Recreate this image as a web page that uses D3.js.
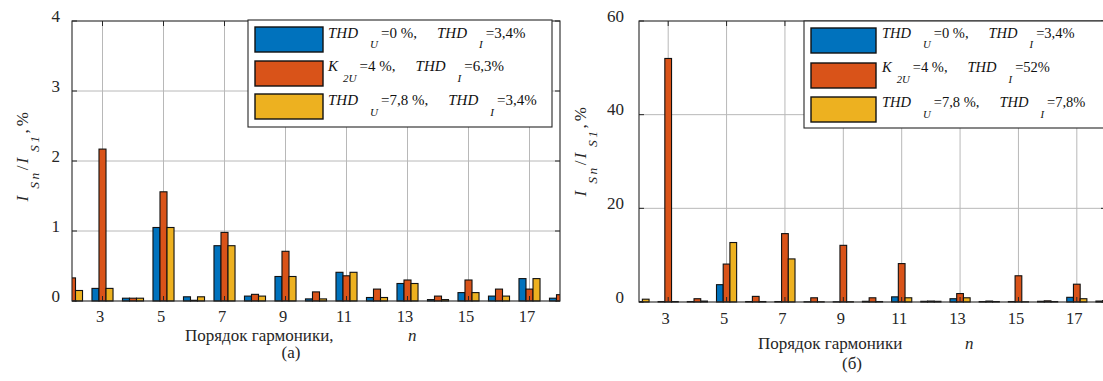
<!DOCTYPE html>
<html><head><meta charset="utf-8">
<script src="https://cdn.jsdelivr.net/npm/d3@7"></script>
<style>body{margin:0;background:#fff}svg{display:block}</style>
</head><body><svg id="c" width="1103" height="381"></svg>
<script>
// ---------- data ----------
const harmonics = [2,3,4,5,6,7,8,9,10,11,12,13,14,15,16,17,18];
const xTickLabels = [3,5,7,9,11,13,15,17];
const yTicksA = [0,1,2,3,4];
const yTicksB = [0,20,40,60];
const seriesColors = ["#0072BD","#D95319","#EDB120"];

// panel (a)
const blueA   = [0.15,0.18,0.04,1.05,0.06,0.79,0.07,0.35,0.03,0.41,0.05,0.25,0.02,0.12,0.07,0.32,0.04];
const orangeA = [0.33,2.17,0.04,1.56,0.01,0.98,0.095,0.71,0.13,0.36,0.17,0.30,0.07,0.30,0.17,0.17,0.09];
const yellowA = [0.15,0.18,0.04,1.05,0.06,0.79,0.07,0.35,0.03,0.41,0.05,0.25,0.02,0.12,0.07,0.32,0.04];

// panel (б)
const blueB   = [0.1,0.1,0.1,3.7,0.1,0.1,0.05,0.05,0.15,1.1,0.15,0.7,0.1,0.1,0.15,1.0,0.2];
const orangeB = [0.1,52.0,0.7,8.1,1.2,14.6,0.9,12.1,0.9,8.2,0.2,1.8,0.2,5.6,0.25,3.8,0.3];
const yellowB = [0.6,0.1,0.2,12.7,0.1,9.2,0.05,0.05,0.1,0.9,0.15,0.9,0.1,0.05,0.1,0.7,0.1];

// legend labels: [text, role]  b = italic base, s = italic subscript, p = plain
const legendA = [
  [["THD","b"],["U","s"],["=0 %,","p"],["THD","b"],["I","s"],["=3,4%","p"]],
  [["K","b"],["2U","s"],["=4 %,","p"],["THD","b"],["I","s"],["=6,3%","p"]],
  [["THD","b"],["U","s"],["=7,8 %,","p"],["THD","b"],["I","s"],["=3,4%","p"]]
];
const legendB = [
  [["THD","b"],["U","s"],["=0 %,","p"],["THD","b"],["I","s"],["=3,4%","p"]],
  [["K","b"],["2U","s"],["=4 %,","p"],["THD","b"],["I","s"],["=52%","p"]],
  [["THD","b"],["U","s"],["=7,8 %,","p"],["THD","b"],["I","s"],["=7,8%","p"]]
];
const xTitleA = "Порядок гармоники,";
const xTitleB = "Порядок гармоники";
const captionA = "(а)";
const captionB = "(б)";

// ---------- font detection (pick an installed serif face) ----------
function pickSerif() {
  const cands = ["Liberation Serif","Times New Roman","Tinos","DejaVu Serif","Noto Serif","FreeSerif","Nimbus Roman","Nimbus Roman No9 L","Times","Georgia","STIX Two Text"];
  const ctx = document.createElement("canvas").getContext("2d");
  const s = "mmmmmmmmmmlliWWgq Порядок 0123";
  const bases = ["monospace","sans-serif"];
  const bw = bases.map(b => { ctx.font = `40px ${b}`; return ctx.measureText(s).width; });
  for (const c of cands) {
    let found = false;
    bases.forEach((b, i) => { ctx.font = `40px "${c}", ${b}`; if (Math.abs(ctx.measureText(s).width - bw[i]) > 0.5) found = true; });
    if (found) return `"${c}", serif`;
  }
  return "serif";
}
const FONT = pickSerif();

// ---------- drawing ----------
const svg = d3.select("#c").attr("font-family", FONT);
const INK = "#262626";

function panel(p) {
  const g = svg.append("g");
  const x = d3.scaleLinear().domain([2,18]).range([p.left,p.right]);
  const y = d3.scaleLinear().domain(p.ydom).range([p.bottom,p.top]);
  const step = x(3) - x(2);
  const band = d3.scaleBand().domain([0,1,2]).range([-step*0.345, step*0.345]).padding(0);

  const clipId = "clip" + p.id;
  svg.append("clipPath").attr("id", clipId).append("rect")
    .attr("x", p.left).attr("y", p.top - 2).attr("width", p.right - p.left).attr("height", p.bottom - p.top + 4);

  // grid
  g.append("g").selectAll("line").data(xTickLabels).join("line")
    .attr("x1", d => x(d)).attr("x2", d => x(d)).attr("y1", p.top).attr("y2", p.bottom)
    .attr("stroke", "#b8b8b8").attr("stroke-width", 1);
  g.append("g").selectAll("line").data(p.yticks.slice(1, -1)).join("line")
    .attr("x1", p.left).attr("x2", p.right).attr("y1", d => y(d)).attr("y2", d => y(d))
    .attr("stroke", "#b8b8b8").attr("stroke-width", 1);

  // bars
  const bars = g.append("g").attr("clip-path", `url(#${clipId})`);
  p.series.forEach((vals, i) => {
    bars.append("g").selectAll("rect")
      .data(harmonics.map((h, j) => ({h, v: vals[j]})))
      .join("rect")
      .attr("x", d => x(d.h) + band(i))
      .attr("width", band.bandwidth())
      .attr("y", d => y(d.v))
      .attr("height", d => y(0) - y(d.v))
      .attr("fill", seriesColors[i])
      .attr("stroke", "#111").attr("stroke-width", 1.1);
  });

  // frame
  g.append("rect").attr("x", p.left).attr("y", p.top)
    .attr("width", p.right - p.left).attr("height", p.bottom - p.top)
    .attr("fill", "none").attr("stroke", INK).attr("stroke-width", 1.1);

  // inward ticks
  const tk = 5;
  g.append("g").selectAll("line").data(xTickLabels).join("line")
    .attr("x1", d => x(d)).attr("x2", d => x(d)).attr("y1", p.bottom).attr("y2", p.bottom - tk)
    .attr("stroke", INK);
  g.append("g").selectAll("line").data(xTickLabels).join("line")
    .attr("x1", d => x(d)).attr("x2", d => x(d)).attr("y1", p.top).attr("y2", p.top + tk)
    .attr("stroke", INK);
  g.append("g").selectAll("line").data(p.yticks).join("line")
    .attr("x1", p.left).attr("x2", p.left + tk).attr("y1", d => y(d)).attr("y2", d => y(d))
    .attr("stroke", INK);
  g.append("g").selectAll("line").data(p.yticks).join("line")
    .attr("x1", p.right).attr("x2", p.right - tk).attr("y1", d => y(d)).attr("y2", d => y(d))
    .attr("stroke", INK);

  // tick labels via axes
  const xa = g.append("g").attr("transform", `translate(0,${p.xLabBase})`)
    .call(d3.axisBottom(x).tickValues(xTickLabels).tickSize(0).tickPadding(0).tickFormat(d3.format("d")));
  xa.attr("font-family", FONT).attr("font-size", 16.5);
  xa.select(".domain").remove();
  xa.selectAll("text").attr("y", 0).attr("dy", 0).attr("dx", -3).attr("fill", INK);

  const ya = g.append("g").attr("transform", `translate(${p.left - p.yLabGap},0)`)
    .call(d3.axisLeft(y).tickValues(p.yticks).tickSize(0).tickPadding(0).tickFormat(d3.format("d")));
  ya.attr("font-family", FONT).attr("font-size", 17);
  ya.select(".domain").remove();
  ya.selectAll("text").attr("x", 0).attr("dy", 0).attr("fill", INK);

  // x title
  g.append("text").attr("x", p.xTitleX).attr("y", p.xTitleY).attr("fill", INK)
    .attr("font-size", 17).text(p.xTitle);
  g.append("text").attr("x", p.nX).attr("y", p.xTitleY).attr("fill", INK)
    .attr("font-size", 17).attr("font-style", "italic").text("n");
  g.append("text").attr("x", p.capX).attr("y", p.capY).attr("text-anchor", "middle").attr("fill", INK)
    .attr("font-size", 17).text(p.caption);

  // y label (rotated)
  const yl = g.append("text").attr("transform", `translate(${p.ylX},${p.ylY}) rotate(-90)`)
    .attr("text-anchor", "end").attr("fill", INK).attr("font-size", 17);
  yl.append("tspan").attr("font-style", "italic").text("I");
  yl.append("tspan").attr("dx", 7).attr("dy", 11).attr("font-style", "italic").attr("font-size", 13.5)
    .attr("letter-spacing", 2.5).text("Sn");
  yl.append("tspan").attr("dy", -11).text("/");
  yl.append("tspan").attr("dx", 2).attr("font-style", "italic").text("I");
  yl.append("tspan").attr("dx", 6).attr("dy", 11).attr("font-style", "italic").attr("font-size", 13.5)
    .attr("letter-spacing", 2.5).text("S1");
  yl.append("tspan").attr("dy", -11).text(",");
  yl.append("tspan").attr("dx", 3).text("%");

  // legend
  const L = p.legend;
  const lg = g.append("g");
  lg.append("rect").attr("x", L.x).attr("y", L.y).attr("width", L.w).attr("height", L.h)
    .attr("fill", "#fff").attr("stroke", INK).attr("stroke-width", 1.1);
  p.legendRows.forEach((row, i) => {
    lg.append("rect").attr("x", L.x + 7).attr("y", L.rowY[i]).attr("width", L.sw).attr("height", 25)
      .attr("fill", seriesColors[i]).attr("stroke", "#111").attr("stroke-width", 1.4);
    const t = lg.append("text").attr("x", L.x + L.tx).attr("y", L.base[i]).attr("fill", "#111")
      .attr("font-size", L.fs);
    let prevRole = null, prevText = null;
    row.forEach(([txt, role], k) => {
      const ts = t.append("tspan").text(txt);
      if (role === "b" || role === "s") ts.attr("font-style", "italic");
      if (role === "s") {
        ts.attr("font-size", L.fs * 0.74).attr("dy", 10.5).attr("dx", prevText === "K" ? 5 : 12);
      } else if (prevRole === "s") {
        ts.attr("dy", -10.5).attr("dx", 3);
      } else if (role === "b" && k > 0) {
        ts.attr("dx", 20);
      }
      prevRole = role; prevText = txt;
    });
  });
}

panel({
  id: "A", left: 72, right: 560, top: 21, bottom: 301, ydom: [0,4], yticks: yTicksA,
  series: [blueA, orangeA, yellowA],
  xLabBase: 322, yLabGap: 12,
  xTitle: xTitleA, xTitleX: 185, xTitleY: 341, nX: 408,
  caption: captionA, capX: 291, capY: 358,
  ylX: 28, ylY: 112,
  legend: {x: 248, y: 20, w: 304, h: 107, sw: 68, tx: 80, fs: 15, rowY: [27,61,94], base: [37.5,71,105]},
  legendRows: legendA
});

panel({
  id: "B", left: 639, right: 1106, top: 21, bottom: 302, ydom: [0,60], yticks: yTicksB,
  series: [blueB, orangeB, yellowB],
  xLabBase: 324, yLabGap: 15,
  xTitle: xTitleB, xTitleX: 758, xTitleY: 349, nX: 965,
  caption: captionB, capX: 852, capY: 369,
  ylX: 586, ylY: 107,
  legend: {x: 804, y: 21, w: 320, h: 107, sw: 65, tx: 78, fs: 14.5, rowY: [28,63,97], base: [37.5,72,107]},
  legendRows: legendB
});
</script>
</body></html>
